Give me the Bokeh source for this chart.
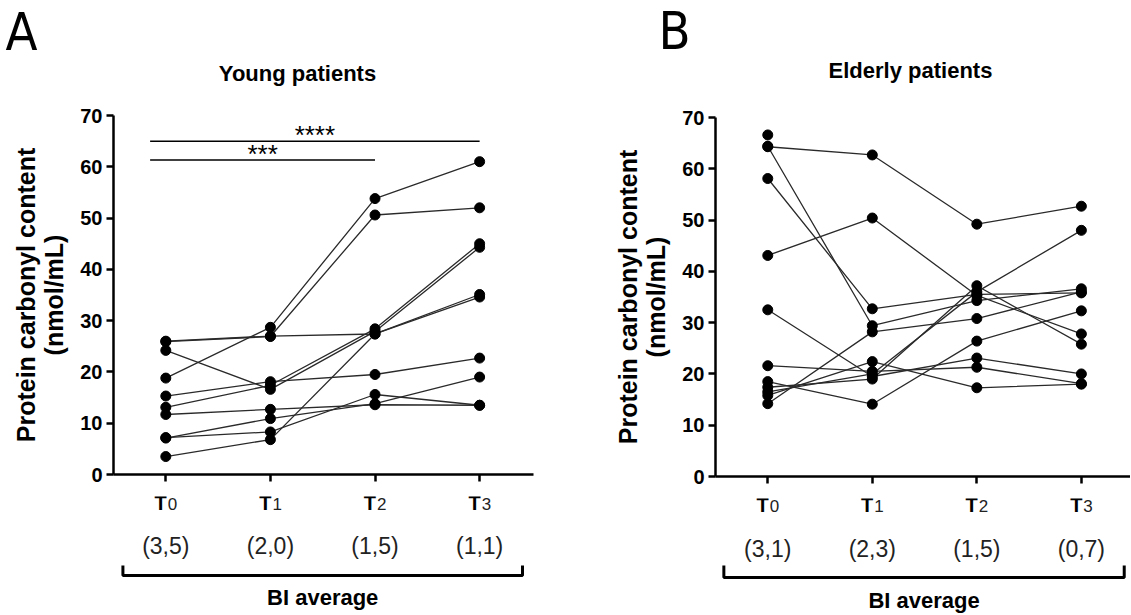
import math
from bokeh.plotting import figure
from bokeh.models import FixedTicker, Range1d, CustomJSTickFormatter
from bokeh.layouts import row, column
from bokeh.embed import file_html
from bokeh.resources import INLINE
from bokeh.core.properties import value

# ---------------- data ----------------
time_letter = ["T", "T", "T", "T"]
time_sub = ["0", "1", "2", "3"]
bi_young = ["(3,5)", "(2,0)", "(1,5)", "(1,1)"]
bi_elderly = ["(3,1)", "(2,3)", "(1,5)", "(0,7)"]
y_ticks = [0, 10, 20, 30, 40, 50, 60, 70]

# Young patients (one value per subject, per time point)
young_T0 = [18.8, 25.9, 26.0, 24.2, 13.1, 15.3, 11.7, 7.1, 7.2, 3.5]
young_T1 = [28.7, 26.9, 27.0, 16.6, 17.4, 18.1, 12.7, 10.9, 8.3, 6.8]
young_T2 = [53.8, 50.6, 27.4, 27.9, 28.4, 19.5, 13.6, 13.8, 15.6, 27.4]
young_T3 = [61.0, 52.0, 35.1, 44.3, 45.0, 22.7, 13.5, 19.0, 13.5, 34.6]

# Elderly patients (nan = missing)
nan = float("nan")
elderly_T0 = [66.6, 64.3, 64.4, 58.1, 43.1, 32.5, 21.6, 18.5, 17.4, 15.8, 14.2, 16.5]
elderly_T1 = [nan, 62.7, 29.4, 32.7, 50.4, 19.5, 20.5, 14.1, 19.0, 22.4, 28.2, 20.0]
elderly_T2 = [nan, 49.2, 34.3, 35.5, 35.3, 23.1, 21.3, 26.4, 37.2, 17.3, 30.8, 36.0]
elderly_T3 = [nan, 52.7, 36.6, 35.8, 27.8, 20.0, 18.1, 32.3, 25.8, 18.0, 36.0, 48.0]

# significance bars (young panel)
sig_x0 = [-0.15, -0.15]
sig_x1 = [2.0, 3.0]
sig_y = [61.3, 65.0]
sig_text = ["***", "****"]

FONT = "Liberation Sans"
LETTER_FONT = "Liberation Sans Narrow, DejaVu Sans Condensed, sans-serif"
TOTAL_H = 614
CHART_TOP, FRAME_H, CHART_BOTTOM = 15, 359, 22


def clean(p):
    p.outline_line_color = None
    p.grid.visible = False
    p.background_fill_color = "white"
    p.border_fill_color = "white"


def strip(width, height, x_range=None, b_left=0, b_right=0):
    s = figure(width=width, height=height, title=None,
               x_range=x_range if x_range is not None else Range1d(0, width),
               y_range=Range1d(0, height), output_backend="svg",
               toolbar_location=None, x_axis_type=None, y_axis_type=None,
               min_border_left=b_left, min_border_right=b_right, min_border_top=0,
               min_border_bottom=0)
    clean(s)
    return s


def make_panel(title, letter, series, bi, x_end, width, b_left, b_right,
               top_h, title_x, title_y, letter_x, letter_y,
               y_t, y_bi, y_br, y_br_top, y_avg, bracket, sig=None):
    xr = Range1d(-0.5, x_end)

    # ---- top strip: panel letter + title ----
    top = strip(width, top_h)
    try:
        top.frame_align = False
    except Exception:
        pass
    top.text(x=[letter_x], y=[letter_y], text=[letter], text_align="center",
             text_baseline="middle", text_font=value(LETTER_FONT),
             text_font_size="52px", text_color="black")
    top.text(x=[title_x], y=[title_y], text=[title], text_align="center",
             text_baseline="middle", text_font=value(FONT), text_font_style="bold",
             text_font_size="22px", text_color="black")

    # ---- main chart ----
    chart_h = CHART_TOP + FRAME_H + CHART_BOTTOM
    p = figure(width=width, height=chart_h, title=None, x_range=xr,
               y_range=Range1d(0, 70), output_backend="svg", toolbar_location=None,
               min_border_left=b_left, min_border_right=b_right,
               min_border_top=CHART_TOP, min_border_bottom=CHART_BOTTOM)
    clean(p)

    ya = p.yaxis[0]
    ya.ticker = FixedTicker(ticks=y_ticks)
    ya.axis_line_width = 2.5
    ya.major_tick_line_width = 2.5
    ya.major_tick_in = 0
    ya.major_tick_out = 7
    ya.minor_tick_line_color = None
    ya.major_label_text_font = FONT
    ya.major_label_text_font_style = "bold"
    ya.major_label_text_font_size = "20px"
    ya.major_label_text_color = "black"
    ya.major_label_standoff = 4
    ya.axis_label = "Protein carbonyl content\n(nmol/mL)"
    ya.axis_label_text_font = FONT
    ya.axis_label_text_font_style = "bold"
    ya.axis_label_text_font_size = "25px"
    ya.axis_label_text_line_height = 1.0
    ya.axis_label_text_color = "black"
    ya.axis_label_standoff = 9

    n = len(series[0])
    xa = p.xaxis[0]
    xa.ticker = FixedTicker(ticks=list(range(len(series))))
    xa.axis_line_width = 2.5
    xa.major_tick_line_width = 2.5
    xa.major_tick_in = 0
    xa.major_tick_out = 7
    xa.minor_tick_out = 0
    xa.minor_tick_line_color = None
    xa.formatter = CustomJSTickFormatter(code="return ''")
    xa.major_label_text_font_size = "1px"
    xa.major_label_standoff = 0

    xs, ys, px, py = [], [], [], []
    for s in range(n):
        lx, ly = [], []
        for t, vals in enumerate(series):
            v = vals[s]
            if not math.isnan(v):
                lx.append(t)
                ly.append(v)
                px.append(t)
                py.append(v)
        xs.append(lx)
        ys.append(ly)
    p.multi_line(xs, ys, line_color="#2a2a2a", line_width=1.3)
    p.scatter(px, py, size=10, marker="circle", fill_color="black", line_color="black")

    if sig is not None:
        x0, x1, yy, txt = sig
        p.segment(x0=x0, y0=yy, x1=x1, y1=yy, line_color="black", line_width=1.5)
        cx = [(a + b) / 2 for a, b in zip(x0, x1)]
        p.text(x=cx, y=yy, text=txt, text_align="center", text_baseline="alphabetic",
               text_font=value(FONT), text_font_size="26px", text_color="black",
               y_offset=-6)

    # ---- bottom strip: time labels, BI values, bracket ----
    bot_h = TOTAL_H - top_h - chart_h
    bot = strip(width, bot_h, x_range=xr, b_left=b_left, b_right=b_right)
    idx = list(range(len(series)))
    bot.text(x=idx, y=[y_t] * len(idx), text=time_letter, text_align="right",
             text_baseline="middle", x_offset=1, text_font=value(FONT),
             text_font_style="bold", text_font_size="20px", text_color="black")
    bot.text(x=idx, y=[y_t] * len(idx), text=time_sub, text_align="left",
             text_baseline="middle", x_offset=2, y_offset=1, text_font=value(FONT),
             text_font_size="17px", text_color="#222222")
    bot.text(x=idx, y=[y_bi] * len(idx), text=bi, text_align="center",
             text_baseline="middle", text_font=value(FONT),
             text_font_size="23px", text_color="#222222")
    lo, hi = bracket
    bot.multi_line(xs=[[lo, lo, hi, hi]], ys=[[y_br_top, y_br, y_br, y_br_top]],
                   line_color="black", line_width=3)
    bot.text(x=[(lo + hi) / 2], y=[y_avg], text=["BI average"], text_align="center",
             text_baseline="middle", text_font=value(FONT), text_font_style="bold",
             text_font_size="22px", text_color="black")

    return column(top, p, bot, spacing=0)


# strip y values count up from the bottom edge of the page (TOTAL_H)
pA = make_panel("Young patients", "A", [young_T0, young_T1, young_T2, young_T3], bi_young,
                x_end=3.515, width=610, b_left=113, b_right=77,
                top_h=100, title_x=297, title_y=27, letter_x=21, letter_y=69,
                y_t=112, y_bi=69, y_br=39, y_br_top=49, y_avg=17,
                bracket=(-0.41, 3.41), sig=(sig_x0, sig_x1, sig_y, sig_text))
pB = make_panel("Elderly patients", "B", [elderly_T0, elderly_T1, elderly_T2, elderly_T3],
                bi_elderly, x_end=3.47, width=520, b_left=105, b_right=0,
                top_h=102, title_x=300, title_y=32, letter_x=64, letter_y=72,
                y_t=109.5, y_bi=66, y_br=37, y_br_top=49, y_avg=14,
                bracket=(-0.42, 3.41))

layout = row(pA, pB, spacing=0)
open("out.html", "w").write(file_html(layout, INLINE))
